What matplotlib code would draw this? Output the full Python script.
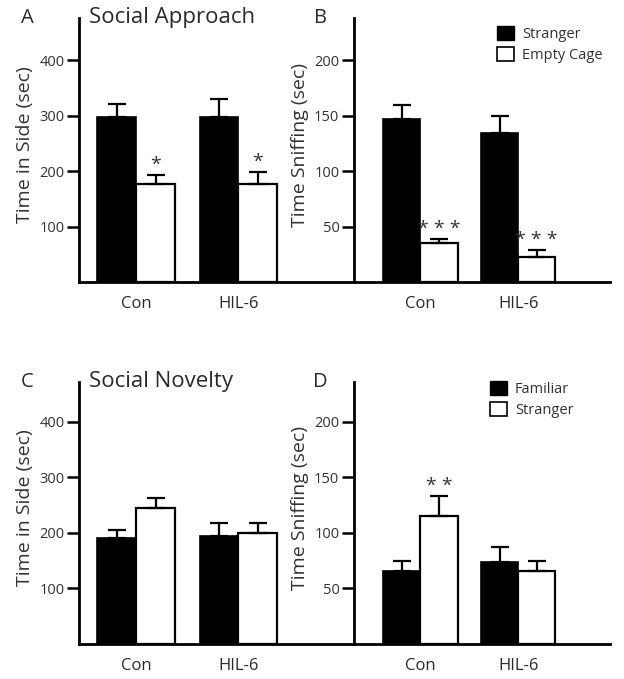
import matplotlib
matplotlib.use("Agg")
import matplotlib.pyplot as plt
from matplotlib.patches import Patch
import numpy as np

plt.rcParams['font.family'] = ['Open Sans', 'DejaVu Sans']

groups = ['Con', 'HIL-6']

# Social approach - time in side
a_stranger = [298, 298]
a_stranger_err = [23, 32]
a_empty = [177, 177]
a_empty_err = [16, 22]
a_stars = ['*', '*']

# Social approach - time sniffing
b_stranger = [147, 134]
b_stranger_err = [12.5, 15.5]
b_empty = [35, 22.5]
b_empty_err = [4, 6.5]
b_stars = ['* * *', '* * *']

# Social novelty - time in side
c_familiar = [191, 195]
c_familiar_err = [14, 23]
c_stranger = [245, 200]
c_stranger_err = [18, 18]
c_stars = ['', '']

# Social novelty - time sniffing
d_familiar = [66, 74]
d_familiar_err = [9, 13]
d_stranger = [115, 66]
d_stranger_err = [18, 9]
d_stars = ['* *', '']

W, H = 624, 679
fig = plt.figure(figsize=(W / 100, H / 100), dpi=100)
TXT = '#2a2a2a'


def px_axes(x0, x1, ytop, ybot):
    return fig.add_axes([x0 / W, 1 - ybot / H, (x1 - x0) / W, (ybot - ytop) / H])


def panel(ax, v1, e1, v2, e2, stars, ymax, ticks, xlim, ylabel=None):
    x = np.arange(len(groups))
    w = 0.38
    ax.bar(x - w / 2, v1, w, color='black', edgecolor='black', linewidth=1.2)
    ax.bar(x + w / 2, v2, w, color='white', edgecolor='black', linewidth=1.6)
    ax.errorbar(x - w / 2, v1, yerr=[np.zeros(len(e1)), e1], fmt='none',
                ecolor='black', elinewidth=1.6, capsize=6.5, capthick=1.6)
    ax.errorbar(x + w / 2, v2, yerr=[np.zeros(len(e2)), e2], fmt='none',
                ecolor='black', elinewidth=1.6, capsize=6.5, capthick=1.6)
    for i, s in enumerate(stars):
        if s:
            ax.annotate(s, (x[i] + w / 2, v2[i] + e2[i]), xytext=(0, 3.5),
                        textcoords='offset points', ha='center', va='baseline',
                        fontsize=14, color='#333333')
    ax.set_ylim(0, ymax)
    ax.set_xlim(*xlim)
    ax.set_yticks(ticks)
    ax.set_xticks(x)
    ax.set_xticklabels(groups, fontsize=12, color=TXT)
    ax.tick_params(axis='x', length=0, pad=10)
    ax.tick_params(axis='y', length=8.5, width=1.8, labelsize=10.5, pad=2,
                   labelcolor='#333333')
    for side in ['top', 'right']:
        ax.spines[side].set_visible(False)
    for side in ['left', 'bottom']:
        ax.spines[side].set_linewidth(2)
    if ylabel:
        ax.set_ylabel(ylabel, fontsize=14, color='#333333', labelpad=3.5)
        ax.yaxis.label.set_y(0.52)


axA = px_axes(79, 354, 18, 282)
panel(axA, a_stranger, a_stranger_err, a_empty, a_empty_err, a_stars,
      476, [100, 200, 300, 400], (-0.56, 2.13), 'Time in Side (sec)')
axB = px_axes(354, 610, 18, 282)
panel(axB, b_stranger, b_stranger_err, b_empty, b_empty_err, b_stars,
      238, [50, 100, 150, 200], (-0.68, 1.94), 'Time Sniffing (sec)')
axC = px_axes(79, 354, 382, 644)
panel(axC, c_familiar, c_familiar_err, c_stranger, c_stranger_err, c_stars,
      472, [100, 200, 300, 400], (-0.56, 2.13), 'Time in Side (sec)')
axD = px_axes(354, 610, 382, 644)
panel(axD, d_familiar, d_familiar_err, d_stranger, d_stranger_err, d_stars,
      236, [50, 100, 150, 200], (-0.68, 1.94), 'Time Sniffing (sec)')

for lbl, xx, yy in [('A', 27, 18), ('B', 321, 18), ('C', 27, 382), ('D', 320, 382)]:
    fig.text(xx / W, 1 - yy / H, lbl, fontsize=14.5, ha='center', va='center', color=TXT)
fig.text(89 / W, 1 - 17 / H, 'Social Approach', fontsize=16, ha='left', va='center', color=TXT)
fig.text(89 / W, 1 - 381 / H, 'Social Novelty', fontsize=16, ha='left', va='center', color=TXT)

leg_kw = dict(frameon=False, fontsize=10.5, handlelength=1.15, handleheight=1.15,
              handletextpad=0.55, labelspacing=0.3, borderpad=0, borderaxespad=0)
axB.legend([Patch(facecolor='black', edgecolor='black'),
            Patch(facecolor='white', edgecolor='black', linewidth=1.2)],
           ['Stranger', 'Empty Cage'], loc='upper left',
           bbox_to_anchor=(497 / W, 1 - 26 / H), bbox_transform=fig.transFigure,
           labelcolor='#333333', **leg_kw)
axD.legend([Patch(facecolor='black', edgecolor='black'),
            Patch(facecolor='white', edgecolor='black', linewidth=1.2)],
           ['Familiar', 'Stranger'], loc='upper left',
           bbox_to_anchor=(490 / W, 1 - 381 / H), bbox_transform=fig.transFigure,
           labelcolor='#333333', **leg_kw)

fig.savefig('out.png', dpi=100)
